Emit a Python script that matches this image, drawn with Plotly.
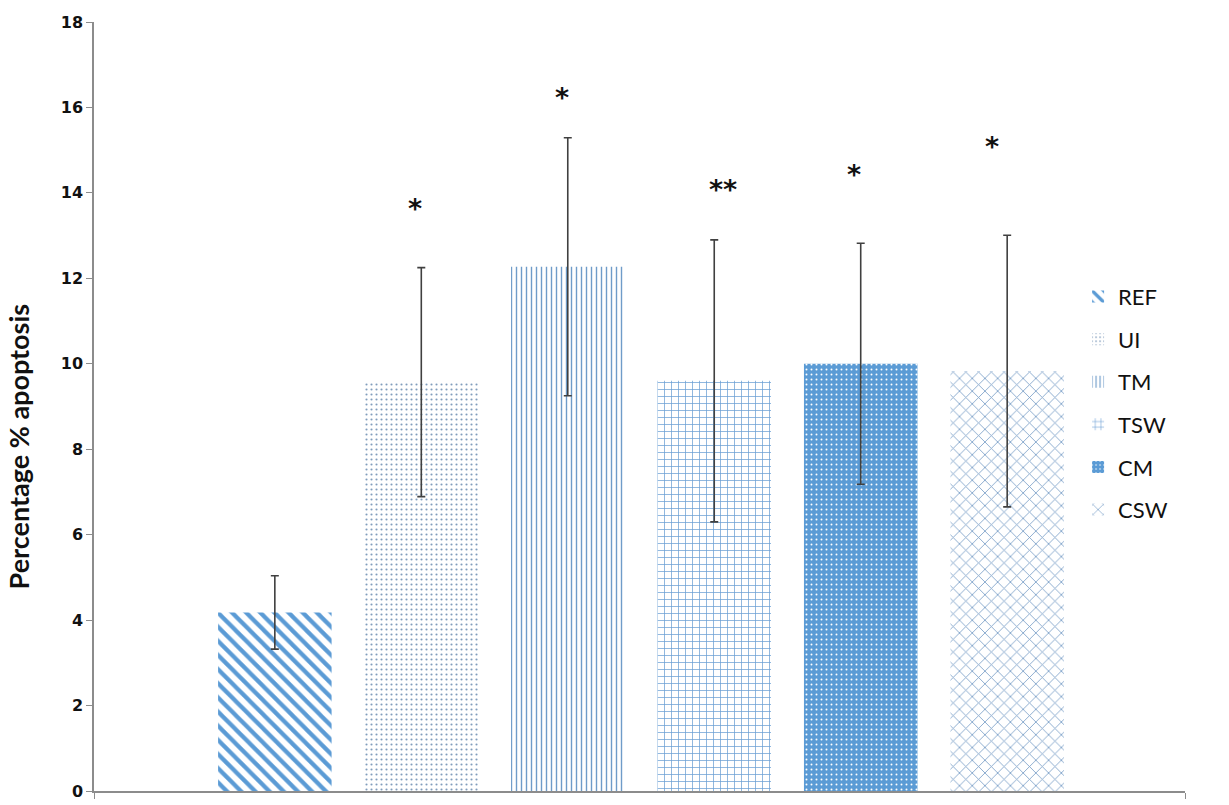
import plotly.graph_objects as go

# Group labels, mean apoptosis (%), error (SD) and significance marks
groups = ["REF", "UI", "TM", "TSW", "CM", "CSW"]
means = [4.18, 9.57, 12.27, 9.60, 10.00, 9.83]
errors = [0.86, 2.68, 3.02, 3.30, 2.82, 3.18]
marks = ["", "*", "*", "**", "*", "*"]
mark_levels = [None, 13.63, 16.23, 14.08, 14.43, 15.08]
mark_nudge = [0, -6, -6, 9, -7, -15]

BLUE = "#5B9BD5"

# fill style per group: (shape, fgcolor, bgcolor, size, solidity)
patterns = [
    ("\\", BLUE, "white", 10, 0.42),
    (".", "#7f9cbc", "white", 5, 0.14),
    ("|", "#6f9cc9", "white", 5, 0.28),
    ("+", "#6a9fd4", "white", 7, 0.2),
    (".", "white", BLUE, 5, 0.12),
    ("x", "#7a9fc8", "white", 9, 0.18),
]

fig = go.Figure()
for i, name in enumerate(groups):
    shape, fg, bg, size, sol = patterns[i]
    fig.add_trace(go.Bar(
        x=[i], y=[means[i]], name=name, width=0.775,
        legendgroup=name,
        marker=dict(
            color=bg,
            line=dict(width=0),
            pattern=dict(shape=shape, fgcolor=fg, bgcolor=bg,
                         size=size, solidity=sol, fillmode="replace"),
        ),
        error_y=dict(type="data", array=[errors[i]], visible=True,
                     color="#404040", thickness=1.6, width=4),
    ))

for i, m in enumerate(marks):
    if m:
        fig.add_annotation(x=i, y=mark_levels[i], text=m, showarrow=False,
                           xshift=mark_nudge[i],
                           font=dict(family="DejaVu Sans", size=27, color="#111",
                                     weight="bold"),
                           xanchor="center", yanchor="middle")

# y-axis label, placed in the left margin
fig.add_annotation(xref="paper", yref="paper", x=-0.0688, y=0.448,
                   text="Percentage % apoptosis", textangle=-90,
                   showarrow=False, xanchor="center", yanchor="middle",
                   font=dict(family="Lato", size=27, color="#111", weight="bold"))

x_lo, x_hi = -1.2346, 6.214
fig.update_layout(
    width=1229, height=805,
    margin=dict(l=94, r=44, t=22, b=4),
    paper_bgcolor="white", plot_bgcolor="white",
    barmode="overlay",
    showlegend=True,
    legend=dict(x=0.902, y=0.670, xanchor="left", yanchor="top",
                font=dict(family="Lato", size=22, color="#111"),
                tracegroupgap=11, traceorder="grouped",
                itemwidth=30, bgcolor="rgba(0,0,0,0)"),
    xaxis=dict(range=[x_lo, x_hi], showgrid=False, zeroline=False,
               showline=True, linecolor="#8c8c8c", linewidth=1.5,
               tickvals=[x_lo, x_hi], ticks="outside", ticklen=6,
               tickcolor="#8c8c8c", showticklabels=False),
    yaxis=dict(range=[0, 18], dtick=2, showgrid=False, zeroline=False,
               showline=True, linecolor="#8c8c8c", linewidth=1.5,
               ticks="outside", ticklen=6, tickcolor="#8c8c8c",
               tickfont=dict(family="DejaVu Sans", size=16, color="#111", weight="bold")),
)

fig.write_html("out.html")
